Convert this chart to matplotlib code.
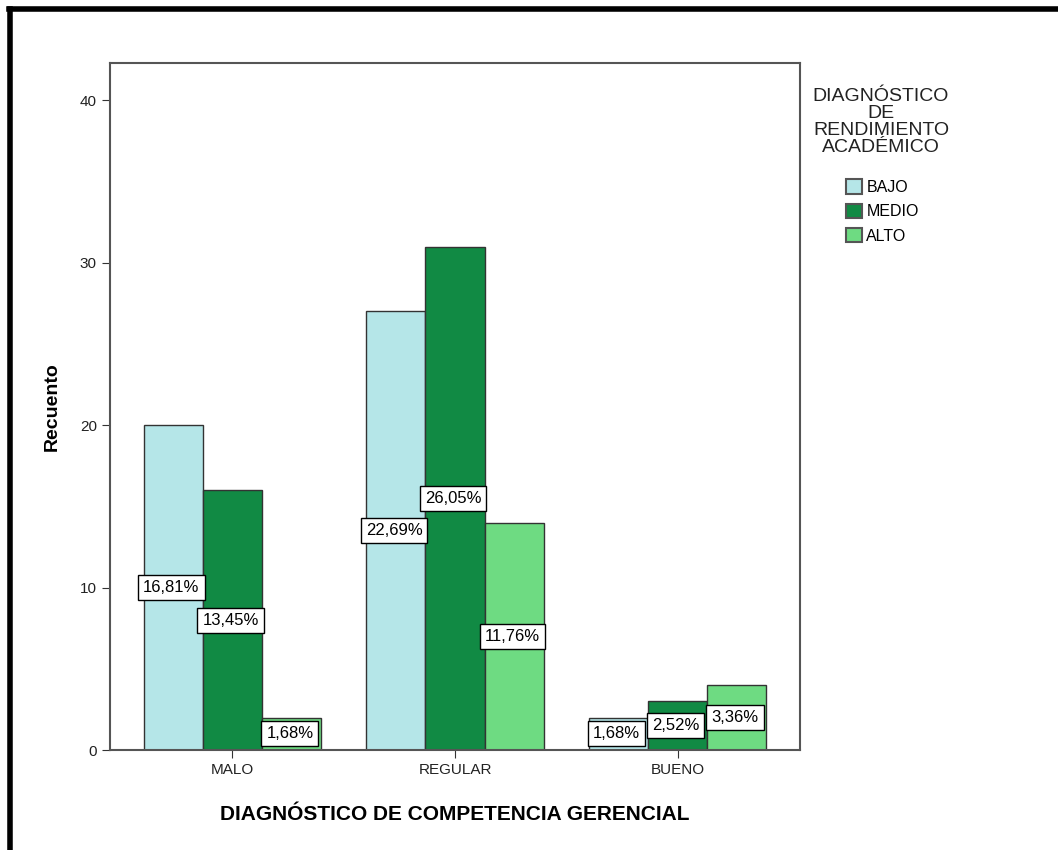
import matplotlib

matplotlib.use("Agg")
import matplotlib.pyplot as plt  # noqa: E402
import numpy as np
from matplotlib.lines import Line2D
from matplotlib.patches import Patch

plt.rcParams["font.family"] = ["Liberation Sans", "DejaVu Sans"]

categories = ["MALO", "REGULAR", "BUENO"]
series_names = ["BAJO", "MEDIO", "ALTO"]
bajo = [20, 27, 2]
medio = [16, 31, 3]
alto = [2, 14, 4]
pct_bajo = ["16,81%", "22,69%", "1,68%"]
pct_medio = ["13,45%", "26,05%", "2,52%"]
pct_alto = ["1,68%", "11,76%", "3,36%"]
colors = ["#b5e6e8", "#118a44", "#6edb82"]

fig = plt.figure(figsize=(10.58, 8.5), dpi=100)
ax = fig.add_axes([110 / 1058, 1 - 750 / 850, 690 / 1058, 687 / 850])

x = np.arange(len(categories))
width = 0.266
series = [bajo, medio, alto]
pcts = [pct_bajo, pct_medio, pct_alto]
for i, (vals, labs) in enumerate(zip(series, pcts)):
    pos = x + (i - 1) * width
    ax.bar(pos, vals, width, color=colors[i], edgecolor="#333333", linewidth=1.0, zorder=2)
    for px, v, lab in zip(pos, vals, labs):
        ax.text(
            px - 0.008, v / 2, lab, ha="center", va="center", fontsize=12, zorder=3,
            bbox=dict(boxstyle="square,pad=0.3", facecolor="white", edgecolor="black", linewidth=1.0),
        )

ax.set_xlim(-0.55, 2.55)
ax.set_ylim(0, 42.3)
ax.set_yticks([0, 10, 20, 30, 40])
ax.set_xticks(x)
ax.set_xticklabels(categories)
ax.tick_params(labelsize=11, length=6, color="#333333", labelcolor="#222222")
for s in ax.spines.values():
    s.set_color("#555555")
    s.set_linewidth(1.5)
ax.set_ylabel("Recuento", fontsize=14, fontweight="bold", labelpad=14)
ax.set_xlabel("DIAGNÓSTICO DE COMPETENCIA GERENCIAL", fontsize=15, fontweight="bold", labelpad=20)

# legend
handles = [Patch(facecolor=c, edgecolor="#555555", linewidth=1.5) for c in colors]
fig.text(881 / 1058, 1 - 122 / 850, "DIAGNÓSTICO\nDE\nRENDIMIENTO\nACADÉMICO",
         ha="center", va="center", fontsize=14, color="#222222", linespacing=1.0)
fig.legend(handles, series_names, loc="upper left", bbox_to_anchor=(840 / 1058, 1 - 173 / 850),
           frameon=False, fontsize=11.5, handlelength=1.0, handleheight=1.0,
           handletextpad=0.25, labelspacing=0.55, borderaxespad=0)

# outer frame (top and left)
fig.add_artist(Line2D([9 / 1058, 1], [1 - 8.5 / 850, 1 - 8.5 / 850], color="black", linewidth=4, transform=fig.transFigure))
fig.add_artist(Line2D([9.5 / 1058, 9.5 / 1058], [0, 1 - 8.5 / 850], color="black", linewidth=4, transform=fig.transFigure))

fig.savefig("out.png", dpi=100)
